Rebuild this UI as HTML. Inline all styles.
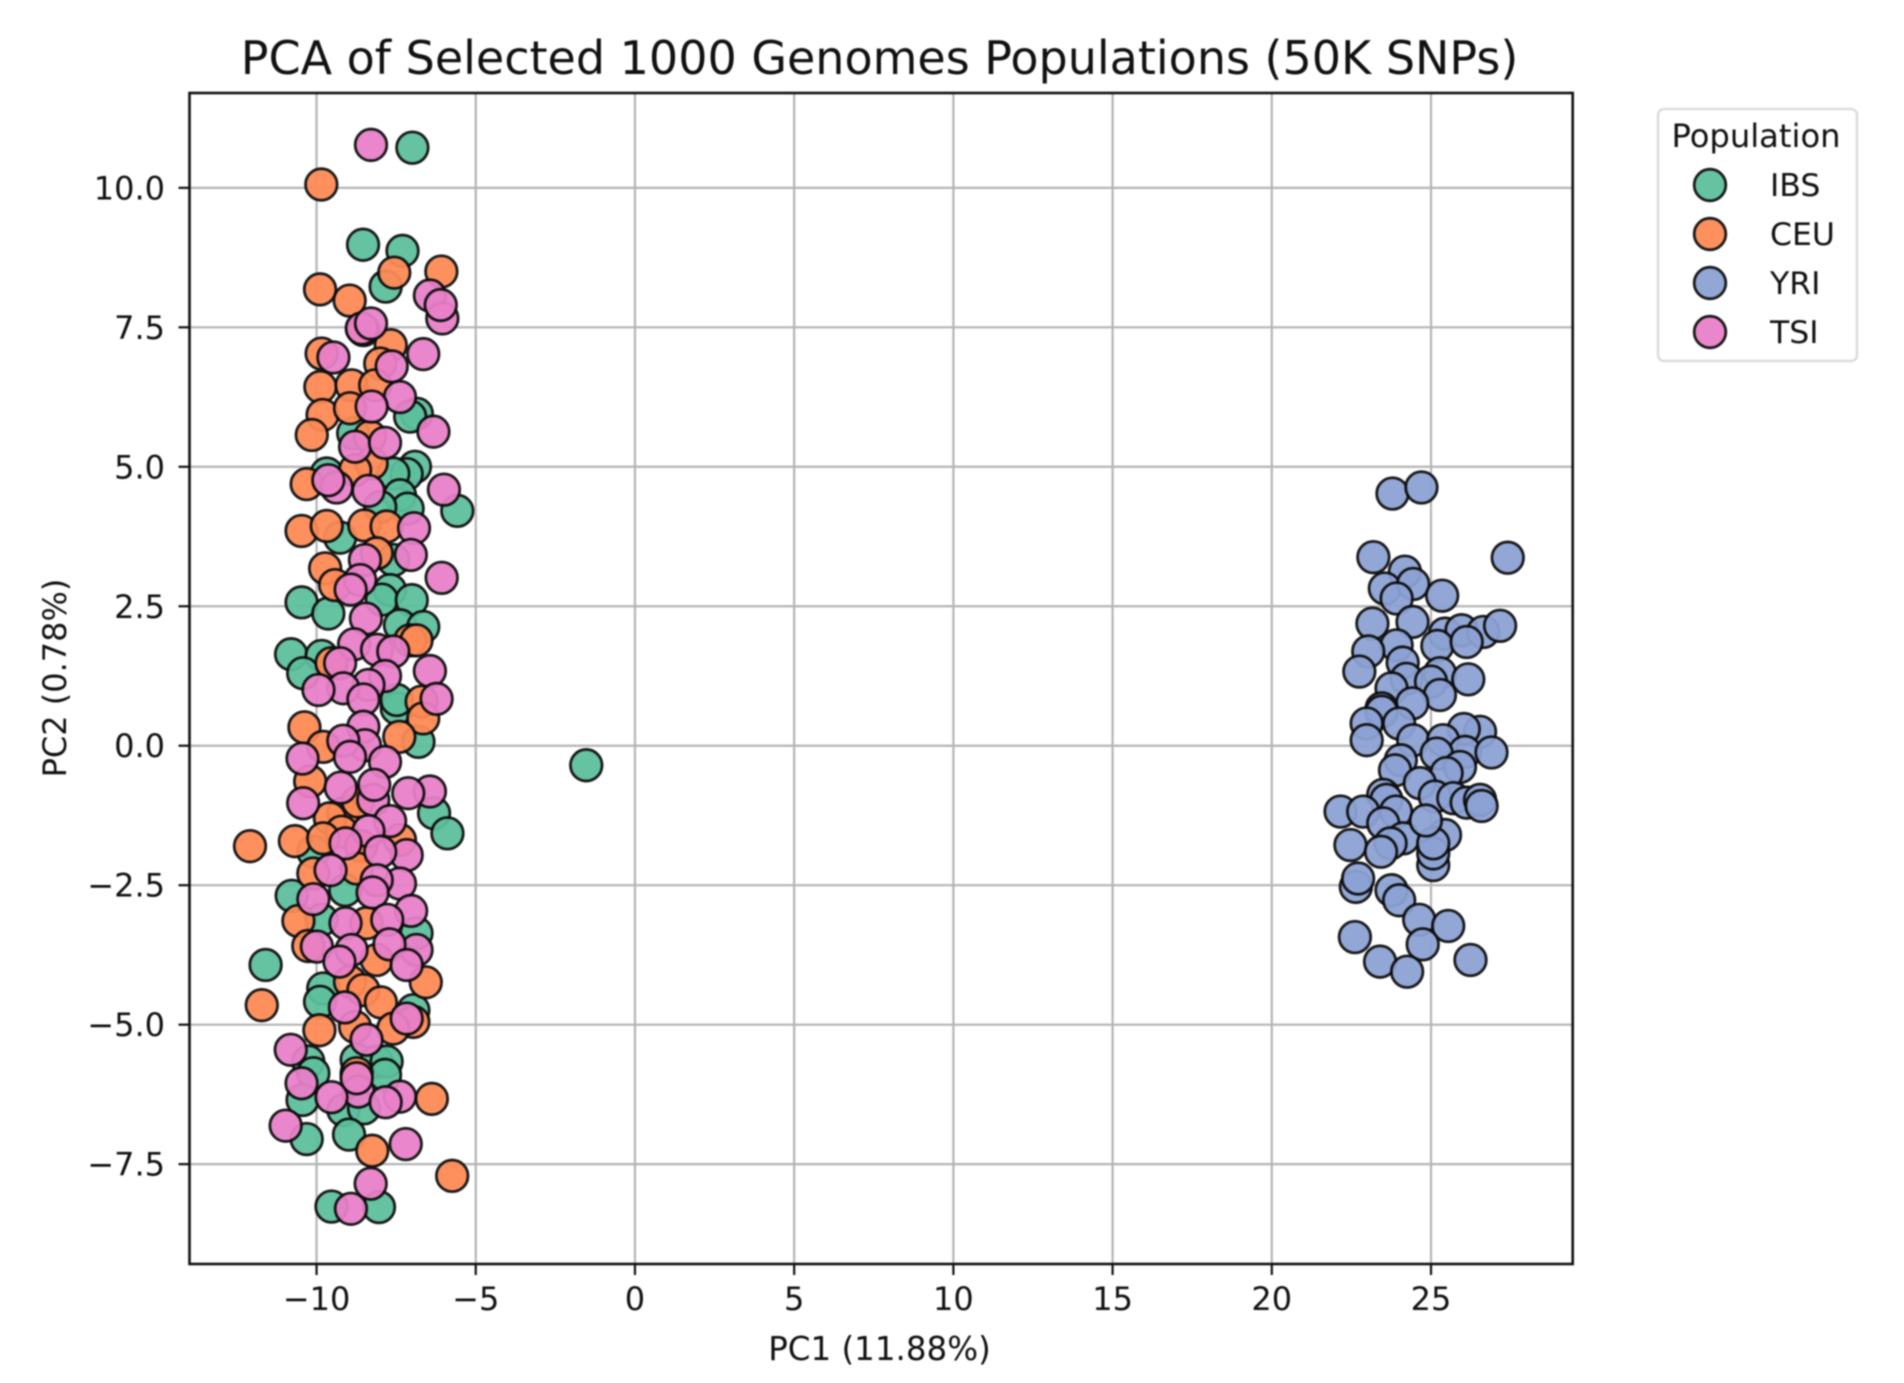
<!DOCTYPE html>
<html lang="en">
<head>
<meta charset="utf-8">
<title>PCA of Selected 1000 Genomes Populations (50K SNPs)</title>
<style>
html,body{margin:0;padding:0;background:#fff;width:1904px;height:1383px;overflow:hidden}
svg{display:block;filter:blur(0.7px)}
text{font-family:"DejaVu Sans",sans-serif;fill:#111}
</style>
</head>
<body>
<svg id="chart" xmlns="http://www.w3.org/2000/svg" width="1904" height="1383" viewBox="0 0 1904 1383">
  <rect x="0" y="0" width="1904" height="1383" fill="#fff"/>
  <text x="879.5" y="74" font-size="46" text-anchor="middle">PCA of Selected 1000 Genomes Populations (50K SNPs)</text>
  <g id="grid"></g>
  <g id="points"></g>
  <rect x="189.5" y="93" width="1383.2" height="1171" fill="none" stroke="#111" stroke-width="2.6"/>
  <g id="ticks"></g>
  <text x="884" y="1360" font-size="32.5" text-anchor="middle" transform="translate(-4.5 0)">PC1 (11.88%)</text>
  <text x="0" y="0" font-size="32" text-anchor="middle" transform="translate(66 678) rotate(-90)">PC2 (0.78%)</text>
  <g>
    <rect x="1658" y="109" width="199" height="252" rx="6" fill="#fff" stroke="#dcdcdc" stroke-width="2.5"/>
    <text x="1756" y="147" font-size="32.2" text-anchor="middle">Population</text>
    <g id="legend-entries"></g>
  </g>
</svg>
<script>
const populations = ["IBS", "CEU", "YRI", "TSI"];
const populationColors = ["#5cc09d", "#fe8a55", "#8ca2d4", "#e980c9"];
const xTickValues = [-10, -5, 0, 5, 10, 15, 20, 25];
const yTickValues = [-7.5, -5, -2.5, 0, 2.5, 5, 7.5, 10];
const xTickLabels = ["\u221210", "\u22125", "0", "5", "10", "15", "20", "25"];
const yTickLabels = ["\u22127.5", "\u22125.0", "\u22122.5", "0.0", "2.5", "5.0", "7.5", "10.0"];
const xDomain = [-13.99, 29.45];
const yDomain = [-9.29, 11.70];

const ibsPoints = [[-6.99,10.72],[-8.54,8.98],[-7.30,8.87],[-7.83,8.23],[-6.85,5.95],[-7.06,5.90],[-8.85,5.6],[-6.91,5.0],[-7.17,4.87],[-7.59,4.88],[-9.68,4.88],[-5.58,4.21],[-7.38,4.49],[-7.14,4.25],[-8.0,4.28],[-9.26,3.73],[-7.59,3.33],[-7.69,2.79],[-7.95,2.62],[-7.01,2.61],[-10.47,2.57],[-9.63,2.37],[-7.38,2.16],[-6.65,2.13],[-10.80,1.64],[-9.84,1.61],[-10.42,1.30],[-7.48,0.67],[-7.48,0.82],[-6.80,0.07],[-1.53,-0.35],[-6.31,-1.21],[-5.89,-1.57],[-10.1,-1.9],[-10.78,-2.69],[-9.1,-2.59],[-9.84,-3.12],[-6.86,-3.36],[-11.6,-3.93],[-9.79,-4.35],[-9.89,-4.59],[-6.96,-4.74],[-10.26,-5.66],[-10.1,-5.87],[-8.74,-5.63],[-8.11,-5.66],[-7.8,-5.66],[-7.85,-5.9],[-10.44,-6.35],[-9.16,-6.53],[-8.51,-6.5],[-10.31,-7.05],[-8.98,-6.97],[-9.53,-8.26],[-8.04,-8.27]];

const ceuPoints = [[-9.85,10.06],[-7.56,8.48],[-6.08,8.50],[-9.89,8.18],[-8.96,7.98],[-8.53,7.45],[-7.67,7.18],[-9.84,7.03],[-8.0,6.85],[-9.88,6.43],[-8.90,6.46],[-8.16,6.46],[-9.81,5.93],[-10.15,5.57],[-8.95,6.05],[-8.32,5.54],[-8.27,5.06],[-8.79,4.94],[-10.31,4.69],[-10.47,3.85],[-9.68,3.94],[-8.50,3.95],[-7.80,3.93],[-8.11,3.45],[-9.73,3.18],[-9.42,2.88],[-7.06,1.89],[-6.86,1.89],[-9.53,1.48],[-6.70,0.79],[-6.65,0.49],[-10.38,0.33],[-7.40,0.16],[-9.79,-0.02],[-10.2,-0.64],[-9.16,-1.21],[-9.58,-1.30],[-9.21,-1.54],[-8.7,-1.0],[-8.6,-1.8],[-10.68,-1.71],[-12.09,-1.80],[-9.79,-1.66],[-7.38,-1.69],[-8.74,-2.20],[-10.1,-2.29],[-10.57,-3.14],[-8.43,-3.18],[-10.26,-3.59],[-8.11,-3.84],[-6.57,-4.24],[-8.95,-4.23],[-8.53,-4.38],[-7.98,-4.60],[-11.72,-4.65],[-6.96,-4.95],[-9.91,-5.10],[-8.79,-5.04],[-7.59,-5.07],[-8.74,-5.87],[-6.38,-6.33],[-8.25,-7.26],[-5.74,-7.71]];

const yriPoints = [[23.79,4.52],[24.70,4.63],[23.19,3.38],[27.41,3.37],[24.18,3.12],[23.55,2.82],[24.44,2.90],[23.92,2.64],[25.35,2.69],[23.16,2.19],[24.42,2.22],[25.44,2.01],[25.96,2.07],[26.64,2.04],[27.17,2.15],[23.92,1.80],[23.03,1.69],[25.2,1.79],[26.12,1.86],[24.11,1.49],[22.75,1.33],[25.28,1.30],[26.17,1.19],[24.23,1.2],[25.0,1.15],[23.76,1.03],[25.28,0.91],[24.41,0.76],[23.45,0.67],[23.45,0.61],[22.98,0.40],[24.0,0.40],[26.54,0.25],[26.03,0.30],[22.98,0.10],[24.44,0.10],[25.38,0.10],[26.07,-0.11],[26.90,-0.12],[25.18,-0.14],[24.05,-0.26],[23.87,-0.44],[25.91,-0.38],[25.49,-0.49],[24.65,-0.67],[23.5,-0.88],[23.6,-0.97],[25.12,-0.91],[25.7,-0.94],[26.12,-1.02],[26.54,-0.97],[26.59,-1.08],[22.16,-1.18],[22.87,-1.18],[23.9,-1.18],[23.5,-1.39],[25.44,-1.6],[24.13,-1.66],[23.73,-1.75],[25.07,-2.14],[25.07,-1.93],[25.07,-1.75],[24.84,-1.34],[22.47,-1.78],[23.43,-1.90],[22.64,-2.53],[22.71,-2.38],[23.76,-2.59],[24.0,-2.77],[24.63,-3.12],[25.54,-3.23],[22.61,-3.43],[24.74,-3.56],[23.4,-3.87],[26.24,-3.84],[24.25,-4.05]];

const tsiPoints = [[-8.29,10.77],[-6.44,8.07],[-6.05,7.66],[-6.10,7.90],[-8.58,7.48],[-8.29,7.57],[-9.47,6.96],[-6.65,7.02],[-7.64,6.80],[-7.38,6.25],[-8.27,6.08],[-6.33,5.63],[-8.79,5.36],[-7.85,5.43],[-9.37,4.63],[-9.63,4.76],[-8.37,4.57],[-6.0,4.59],[-6.94,3.90],[-7.04,3.42],[-8.48,3.33],[-6.07,3.01],[-8.63,2.97],[-8.93,2.80],[-8.45,2.28],[-8.82,1.82],[-8.1,1.72],[-7.59,1.69],[-9.26,1.48],[-6.44,1.34],[-7.85,1.25],[-8.37,1.09],[-9.16,1.03],[-9.94,1.0],[-8.53,0.83],[-6.23,0.84],[-8.53,0.34],[-8.48,0.01],[-9.16,0.09],[-10.44,-0.23],[-8.95,-0.2],[-7.85,-0.29],[-8.22,-0.97],[-6.44,-0.82],[-7.12,-0.85],[-9.24,-0.75],[-8.19,-0.70],[-10.42,-1.03],[-7.69,-1.35],[-8.37,-1.53],[-9.09,-1.75],[-7.17,-1.96],[-8.0,-1.90],[-9.56,-2.23],[-7.38,-2.47],[-8.11,-2.41],[-8.24,-2.63],[-10.1,-2.75],[-7.03,-2.96],[-9.09,-3.18],[-7.78,-3.12],[-6.86,-3.66],[-8.9,-3.66],[-9.99,-3.60],[-7.71,-3.56],[-9.28,-3.87],[-7.17,-3.93],[-9.11,-4.69],[-7.17,-4.89],[-8.43,-5.27],[-10.81,-5.45],[-8.69,-6.2],[-8.74,-5.96],[-10.47,-6.05],[-9.53,-6.30],[-7.38,-6.29],[-7.83,-6.39],[-10.97,-6.81],[-7.2,-7.14],[-8.30,-7.85],[-8.92,-8.30]];

const seriesPoints = [ibsPoints, ceuPoints, yriPoints, tsiPoints];

const SVG_NS = "http://www.w3.org/2000/svg";
const plotLeft = 189.5, plotRight = 1572.7, plotTop = 93, plotBottom = 1264;
const markerRadius = 15.8;

function xScale(v) {
  return plotLeft + (v - xDomain[0]) / (xDomain[1] - xDomain[0]) * (plotRight - plotLeft);
}
function yScale(v) {
  return plotBottom - (v - yDomain[0]) / (yDomain[1] - yDomain[0]) * (plotBottom - plotTop);
}
function makeLine(x1, y1, x2, y2, color, width) {
  const l = document.createElementNS(SVG_NS, "line");
  l.setAttribute("x1", x1);
  l.setAttribute("y1", y1);
  l.setAttribute("x2", x2);
  l.setAttribute("y2", y2);
  l.setAttribute("stroke", color);
  l.setAttribute("stroke-width", width);
  return l;
}
function makeMarker(cx, cy, color) {
  const c = document.createElementNS(SVG_NS, "circle");
  c.setAttribute("cx", cx);
  c.setAttribute("cy", cy);
  c.setAttribute("r", markerRadius);
  c.setAttribute("fill", color);
  c.setAttribute("stroke", "#0d0d0d");
  c.setAttribute("stroke-width", 2.8);
  c.setAttribute("opacity", 0.94);
  return c;
}
function makeText(x, y, str, anchor, size) {
  const t = document.createElementNS(SVG_NS, "text");
  t.setAttribute("x", x);
  t.setAttribute("y", y);
  t.setAttribute("text-anchor", anchor);
  t.setAttribute("font-size", size);
  t.textContent = str;
  return t;
}

const gridGroup = document.getElementById("grid");
const tickGroup = document.getElementById("ticks");
const pointGroup = document.getElementById("points");
const legendGroup = document.getElementById("legend-entries");

xTickValues.forEach(function (v, i) {
  const x = xScale(v);
  const g = makeLine(x, plotTop, x, plotBottom, "#b4b4b4", 2.2);
  
  
  gridGroup.appendChild(g);
  const m = makeLine(x, plotBottom, x, plotBottom + 11, "#111", 2.2);
  
  
  tickGroup.appendChild(m);
  const t = makeText(x, 1310, xTickLabels[i], "middle", 32);
  
  
  tickGroup.appendChild(t);
});

yTickValues.forEach(function (v, i) {
  const y = yScale(v);
  const g = makeLine(plotLeft, y, plotRight, y, "#b4b4b4", 2.2);
  
  
  gridGroup.appendChild(g);
  const m = makeLine(plotLeft - 11, y, plotLeft, y, "#111", 2.2);
  
  
  tickGroup.appendChild(m);
  const t = makeText(165, y + 11.5, yTickLabels[i], "end", 32);
  
  
  tickGroup.appendChild(t);
});

seriesPoints.forEach(function (pts, s) {
  pts.forEach(function (p) {
    const c = makeMarker(xScale(p[0]), yScale(p[1]), populationColors[s]);
    
    
    pointGroup.appendChild(c);
  });
});

populations.forEach(function (name, i) {
  const y = 185 + i * 49;
  const c = makeMarker(1710, y, populationColors[i]);
  
  
  legendGroup.appendChild(c);
  const t = makeText(1770, y + 11, name, "start", 31.5);
  
  
  legendGroup.appendChild(t);
});
</script>
</body>
</html>
